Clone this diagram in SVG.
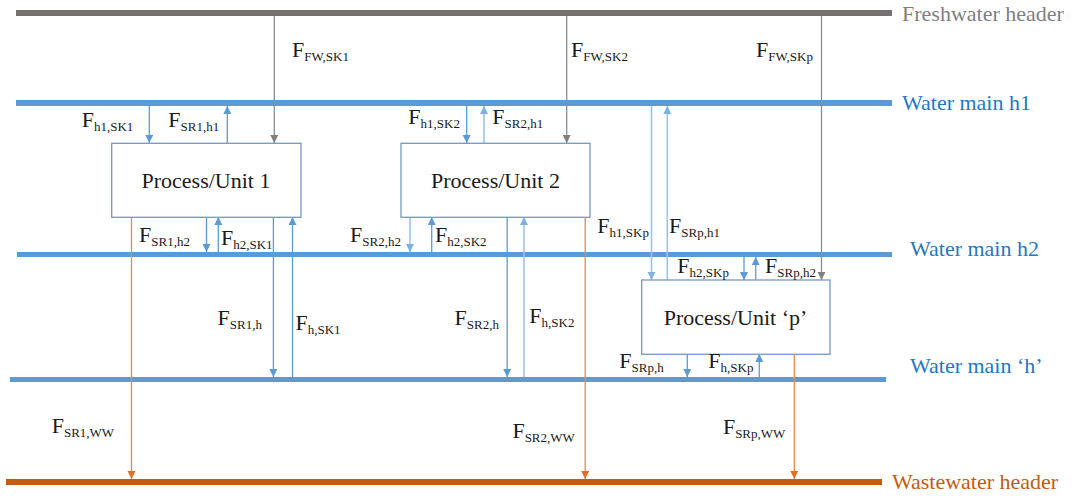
<svg xmlns="http://www.w3.org/2000/svg" width="1073" height="497" viewBox="0 0 1073 497">
<style>
text{font-family:"Liberation Serif","Times New Roman",serif;}
.lbl{font-size:22px;fill:#1a1a1a;}
.sub{font-size:13px;}
.box{fill:#fff;stroke:#7399C6;stroke-width:1.3;}
.unit{font-size:22px;fill:#1a1a1a;text-anchor:middle;}
.gray{stroke:#8C8C8C;stroke-width:1.3;fill:none;}
.blue{stroke:#5B9BD5;stroke-width:1.3;fill:none;}
.lblue{stroke:#9DC3E6;stroke-width:1.6;fill:none;}
.orange{stroke:#E58B4E;stroke-width:1.3;fill:none;}
.hdr{font-size:22px;}
</style>
<defs>
<marker id="ag" markerUnits="userSpaceOnUse" markerWidth="10" markerHeight="10" refX="8" refY="4" orient="auto"><path d="M0,0 L8,4 L0,8 Z" fill="#7F7F7F"/></marker>
<marker id="ab" markerUnits="userSpaceOnUse" markerWidth="10" markerHeight="10" refX="8" refY="4" orient="auto"><path d="M0,0 L8,4 L0,8 Z" fill="#5B9BD5"/></marker>
<marker id="al" markerUnits="userSpaceOnUse" markerWidth="10" markerHeight="10" refX="8" refY="4" orient="auto"><path d="M0,0 L8,4 L0,8 Z" fill="#7FB0E0"/></marker>
<marker id="ao" markerUnits="userSpaceOnUse" markerWidth="10" markerHeight="10" refX="8" refY="4" orient="auto"><path d="M0,0 L8,4 L0,8 Z" fill="#D9702E"/></marker>
</defs>

<g id="headers">
<rect x="16" y="10" width="876" height="6" fill="#767171"/>
<rect x="16" y="100" width="876" height="6" fill="#5B9BD5"/>
<rect x="17" y="252" width="875" height="5" fill="#5B9BD5"/>
<rect x="10" y="377" width="876" height="5" fill="#5B9BD5"/>
<rect x="6" y="479" width="876" height="6" fill="#C55A11"/>
<text class="hdr" x="902" y="21" fill="#7F7F7F">Freshwater header</text>
<text class="hdr" x="902" y="110" fill="#1F77C4">Water main h1</text>
<text class="hdr" x="910" y="256" fill="#1F77C4">Water main h2</text>
<text class="hdr" x="910" y="373" fill="#1F77C4">Water main ‘h’</text>
<text class="hdr" x="892" y="489" fill="#C55A11">Wastewater header</text>
</g>

<g id="connectors">
<line class="gray" x1="274.3" y1="16" x2="274.3" y2="143" marker-end="url(#ag)"/>
<line class="gray" x1="566.7" y1="16" x2="566.7" y2="143" marker-end="url(#ag)"/>
<line class="gray" x1="821.5" y1="16" x2="821.5" y2="280" marker-end="url(#ag)"/>

<line class="blue" x1="149.3" y1="106" x2="149.3" y2="143" marker-end="url(#ab)"/>
<line class="blue" x1="227.3" y1="143" x2="227.3" y2="106" marker-end="url(#ab)"/>
<line class="blue" x1="466.7" y1="106" x2="466.7" y2="143" marker-end="url(#ab)"/>
<line class="lblue" x1="484" y1="143" x2="484" y2="106" marker-end="url(#al)"/>
<line class="lblue" x1="651.5" y1="106" x2="651.5" y2="280" marker-end="url(#al)"/>
<line class="lblue" x1="667.3" y1="280" x2="667.3" y2="106" marker-end="url(#al)"/>

<line class="blue" x1="206.5" y1="217" x2="206.5" y2="252" marker-end="url(#ab)"/>
<line class="blue" x1="218.3" y1="252" x2="218.3" y2="217" marker-end="url(#ab)"/>
<line class="blue" x1="273.4" y1="217" x2="273.4" y2="377" marker-end="url(#ab)"/>
<line class="blue" x1="292.5" y1="377" x2="292.5" y2="217" marker-end="url(#ab)"/>

<line class="lblue" x1="410" y1="217" x2="410" y2="252" marker-end="url(#al)"/>
<line class="blue" x1="431.7" y1="252" x2="431.7" y2="217" marker-end="url(#ab)"/>
<line class="blue" x1="507.2" y1="217" x2="507.2" y2="377" marker-end="url(#ab)"/>
<line class="lblue" x1="524" y1="377" x2="524" y2="217" marker-end="url(#al)"/>

<line class="blue" x1="744" y1="257" x2="744" y2="280" marker-end="url(#ab)"/>
<line class="blue" x1="755.7" y1="280" x2="755.7" y2="257" marker-end="url(#ab)"/>
<line class="blue" x1="687.3" y1="354" x2="687.3" y2="377" marker-end="url(#ab)"/>
<line class="blue" x1="759.3" y1="377" x2="759.3" y2="354" marker-end="url(#ab)"/>

<line class="orange" x1="131.5" y1="217" x2="131.5" y2="479" marker-end="url(#ao)"/>
<line class="orange" x1="585.2" y1="217" x2="585.2" y2="479" marker-end="url(#ao)"/>
<line class="orange" x1="794.3" y1="354" x2="794.3" y2="479" marker-end="url(#ao)"/>
</g>

<g id="unit1">
<rect class="box" x="111.7" y="143.3" width="189.3" height="74"/>
<text class="unit" x="206" y="188">Process/Unit 1</text>
</g>
<g id="unit2">
<rect class="box" x="401" y="143.3" width="189" height="74"/>
<text class="unit" x="495.5" y="188">Process/Unit 2</text>
</g>
<g id="unitp">
<rect class="box" x="641.7" y="280" width="188.3" height="74.3"/>
<text class="unit" x="735.5" y="325">Process/Unit ‘p’</text>
</g>

<g id="labels">
<text class="lbl" x="292" y="57">F<tspan class="sub" dy="4">FW,SK1</tspan></text>
<text class="lbl" x="571" y="57">F<tspan class="sub" dy="4">FW,SK2</tspan></text>
<text class="lbl" x="756" y="57">F<tspan class="sub" dy="4">FW,SKp</tspan></text>
<text class="lbl" x="81.7" y="127">F<tspan class="sub" dy="4">h1,SK1</tspan></text>
<text class="lbl" x="168.3" y="127">F<tspan class="sub" dy="4">SR1,h1</tspan></text>
<text class="lbl" x="408.3" y="124.3">F<tspan class="sub" dy="4">h1,SK2</tspan></text>
<text class="lbl" x="492.3" y="124.3">F<tspan class="sub" dy="4">SR2,h1</tspan></text>
<text class="lbl" x="139" y="241.7">F<tspan class="sub" dy="4">SR1,h2</tspan></text>
<text class="lbl" x="221" y="245">F<tspan class="sub" dy="4">h2,SK1</tspan></text>
<text class="lbl" x="350" y="241.7">F<tspan class="sub" dy="4">SR2,h2</tspan></text>
<text class="lbl" x="435" y="241.7">F<tspan class="sub" dy="4">h2,SK2</tspan></text>
<text class="lbl" x="597.3" y="233.3">F<tspan class="sub" dy="4">h1,SKp</tspan></text>
<text class="lbl" x="669" y="233.3">F<tspan class="sub" dy="4">SRp,h1</tspan></text>
<text class="lbl" x="677.3" y="272.7">F<tspan class="sub" dy="4">h2,SKp</tspan></text>
<text class="lbl" x="765" y="272.7">F<tspan class="sub" dy="4">SRp,h2</tspan></text>
<text class="lbl" x="217.6" y="325">F<tspan class="sub" dy="4">SR1,h</tspan></text>
<text class="lbl" x="295.5" y="330">F<tspan class="sub" dy="4">h,SK1</tspan></text>
<text class="lbl" x="454.5" y="325">F<tspan class="sub" dy="4">SR2,h</tspan></text>
<text class="lbl" x="529.3" y="323.3">F<tspan class="sub" dy="4">h,SK2</tspan></text>
<text class="lbl" x="619.3" y="368.3">F<tspan class="sub" dy="4">SRp,h</tspan></text>
<text class="lbl" x="708.3" y="368.3">F<tspan class="sub" dy="4">h,SKp</tspan></text>
<text class="lbl" x="51.7" y="433.3">F<tspan class="sub" dy="4">SR1,WW</tspan></text>
<text class="lbl" x="512.4" y="438.3">F<tspan class="sub" dy="4">SR2,WW</tspan></text>
<text class="lbl" x="722.9" y="434.3">F<tspan class="sub" dy="4">SRp,WW</tspan></text>
</g>
</svg>
